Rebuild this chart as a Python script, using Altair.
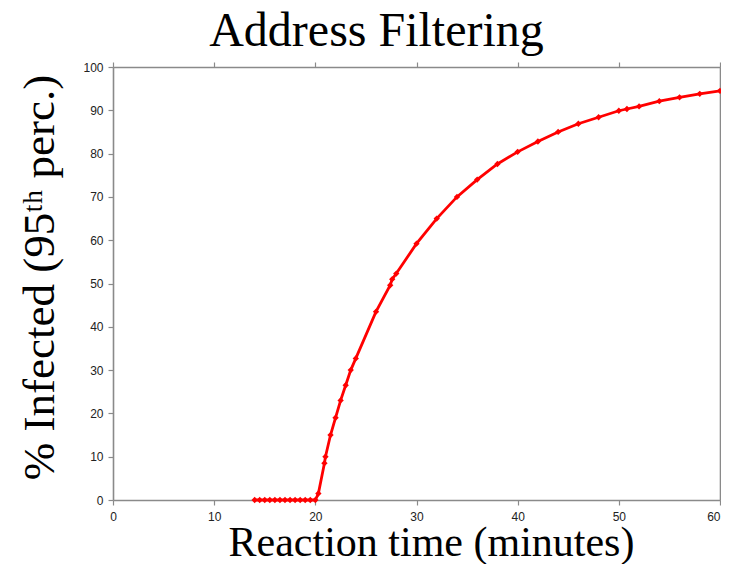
import altair as alt
import pandas as pd

minutes = [14, 14.5, 15, 15.5, 16, 16.5, 17, 17.5, 18, 18.5, 19, 19.5, 20,
           20.3, 20.9, 21, 21.5, 22, 22.5, 23, 23.5, 24,
           26, 27.4, 27.6, 28,
           30, 32, 34, 36, 38, 40, 42, 44, 46, 48,
           50, 50.8, 52, 54, 56, 58, 60]
infected = [0, 0, 0, 0, 0, 0, 0, 0, 0, 0, 0, 0, 0,
            1.5, 8.5, 10, 15, 19, 23, 26.5, 30, 32.7,
            43.5, 49.6, 51, 52.3,
            59.2, 65, 70, 74, 77.6, 80.4, 82.8, 85, 86.9, 88.4,
            89.9, 90.3, 90.9, 92.1, 93, 93.8, 94.5]

x_ticks = [0, 10, 20, 30, 40, 50, 60]
y_ticks = [0, 10, 20, 30, 40, 50, 60, 70, 80, 90, 100]

df = pd.DataFrame({"minutes": minutes, "infected": infected})

AX = dict(domainColor="#8a8a8a", domainWidth=1.6, tickColor="#8a8a8a", tickWidth=1.2,
          tickSize=5, grid=False, labelFont="Liberation Sans", labelFontSize=12,
          labelColor="#222222")

xs = alt.Scale(domain=[0, 60], nice=False, zero=False)
ys = alt.Scale(domain=[0, 100], nice=False)

line = alt.Chart(df).mark_line(color="#ff0000", strokeWidth=2.8).encode(
    x=alt.X("minutes:Q", scale=xs,
            axis=alt.Axis(values=x_ticks, orient="bottom", title="Reaction time (minutes)",
                          labelPadding=6,
                          labelAlign={"condition": {"test": "datum.value == 60", "value": "right"},
                                      "value": "center"},
                          titleFont="Liberation Serif", titleFontSize=42,
                          titleFontWeight="normal", titleColor="black",
                          titleX=318, titleY=55, titleBaseline="alphabetic",
                          titleAlign="center", **AX)),
    y=alt.Y("infected:Q", scale=ys,
            axis=alt.Axis(values=y_ticks, orient="left", title="% Infected (95ᵗʰ perc.)",
                          labelPadding=5, titleFont="Liberation Serif", titleFontSize=45,
                          titleFontWeight="normal", titleColor="black",
                          titleX=-60, titleY=210, titleAngle=-90, titleBaseline="alphabetic",
                          titleAlign="center", **AX)),
)

pts = alt.Chart(df).mark_point(shape="diamond", filled=True, color="#ff0000", size=40,
                               opacity=1).encode(
    x=alt.X("minutes:Q", scale=xs,
            axis=alt.Axis(values=x_ticks, orient="top", labels=False, title=None, **AX)),
    y=alt.Y("infected:Q", scale=ys,
            axis=alt.Axis(values=y_ticks, orient="right", labels=False, title=None, **AX)),
)

chart = alt.layer(line, pts).resolve_axis(x="independent", y="independent").properties(
    width=607, height=433,
    autosize=alt.AutoSizeParams(type="none"),
    padding={"left": 105, "top": 59, "right": 1, "bottom": 64},
    title=alt.Title("Address Filtering", font="Liberation Serif", fontSize=48,
                    fontWeight="normal", color="black", anchor="middle", dx=-40,
                    baseline="top", offset=5),
).configure_view(stroke=None)

chart.save("out.html", embed_options={"renderer": "svg", "actions": False})
